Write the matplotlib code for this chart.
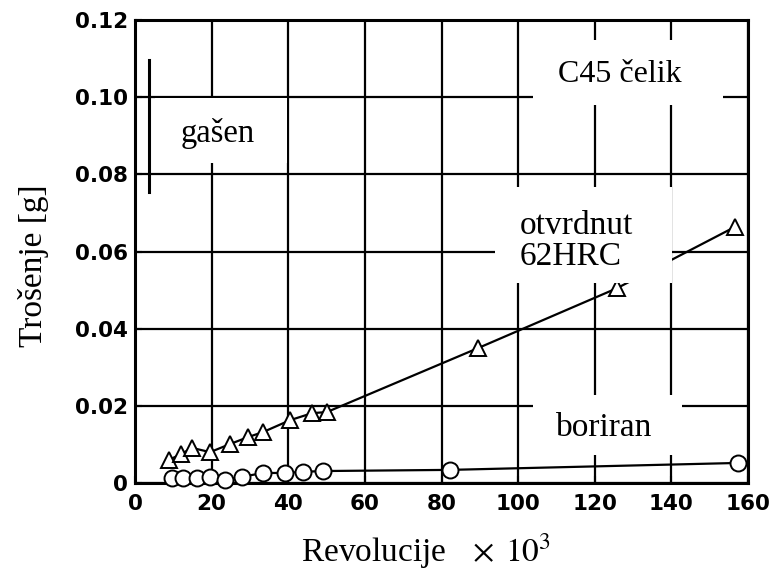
import numpy as np
import matplotlib.pyplot as plt
from matplotlib.patches import Rectangle

# otvrdnut 62HRC (trokuti)
x_hard = [8.9, 12.0, 14.9, 19.6, 24.8, 29.5, 33.4, 40.5, 46.2, 50.1, 89.6, 125.8, 156.6]
y_hard = [0.0060, 0.0075, 0.0091, 0.0080, 0.0101, 0.0119, 0.0132, 0.0163, 0.0181, 0.0184,
          0.0350, 0.0505, 0.0664]

# boriran (krugovi)
x_bor = [9.7, 12.5, 16.2, 19.6, 23.5, 27.9, 33.4, 39.2, 43.9, 49.1, 82.2, 157.4]
y_bor = [0.0013, 0.0013, 0.0013, 0.0016, 0.0008, 0.0016, 0.0026, 0.0026, 0.0029, 0.0031,
         0.0034, 0.0052]

# gašen - van skale, samo vertikalna crta
x_gas = [3.7, 3.7]
y_gas = [0.0754, 0.1096]

xticks = [0, 20, 40, 60, 80, 100, 120, 140, 160]
yticks = [0, 0.02, 0.04, 0.06, 0.08, 0.10, 0.12]
ytick_labels = ['0', '0.02', '0.04', '0.06', '0.08', '0.10', '0.12']

serif = 'Liberation Serif'
plt.rcParams['mathtext.fontset'] = 'stix'

fig = plt.figure(figsize=(7.69, 5.75), dpi=100)
ax = fig.add_axes([0.1756, 0.16, 0.7971, 0.805])

ax.set_xlim(0, 160)
ax.set_ylim(0, 0.12)
ax.set_xticks(xticks)
ax.set_yticks(yticks)
ax.set_yticklabels(ytick_labels)
for lab in ax.get_xticklabels() + ax.get_yticklabels():
    lab.set_fontfamily('DejaVu Sans')
    lab.set_fontweight('bold')
    lab.set_fontsize(15.5)
ax.tick_params(direction='in', length=5, width=1.5)
ax.tick_params(axis='x', pad=8)
ax.tick_params(axis='y', pad=5)

ax.grid(True, color='black', linewidth=1.6, zorder=0)
ax.set_axisbelow(True)
for s in ax.spines.values():
    s.set_linewidth(2.2)

ax.plot(x_hard, y_hard, color='black', lw=1.6, marker='^', ms=11, mfc='white',
        mec='black', mew=1.4, zorder=3, clip_on=False)
ax.plot(x_bor, y_bor, color='black', lw=1.6, marker='o', ms=11.5, mfc='white',
        mec='black', mew=1.4, zorder=4, clip_on=False)
ax.plot(x_gas, y_gas, color='black', lw=2.2, zorder=3)

# bijele pozadine natpisa
boxes = [(104, 0.098, 49.5, 0.0168),
         (5.2, 0.0829, 34.5, 0.0169),
         (94, 0.0518, 46.2, 0.0249),
         (104, 0.0073, 38.8, 0.0155)]
for bx, by, bw, bh in boxes:
    ax.add_patch(Rectangle((bx, by), bw, bh, facecolor='white', edgecolor='none', zorder=5))

ax.text(126.6, 0.1058, 'C45 čelik', family=serif, fontsize=23, ha='center', va='center', zorder=6)
ax.text(21.7, 0.0907, 'gašen', family=serif, fontsize=23.5, ha='center', va='center', zorder=6)
ax.text(100.3, 0.0627, 'otvrdnut\n62HRC', family=serif, fontsize=24, ha='left', va='center',
        linespacing=1.05, zorder=6)
ax.text(122.5, 0.0143, 'boriran', family=serif, fontsize=24, ha='center', va='center', zorder=6)

ax.set_xlabel(r'Revolucije $\;\;\times\;10^3$', family=serif, fontsize=24)
ax.xaxis.set_label_coords(0.475, -0.105)
ax.set_ylabel('Trošenje [g]', family=serif, fontsize=24)
ax.yaxis.set_label_coords(-0.14, 0.47)

fig.savefig('out.png', dpi=100)
